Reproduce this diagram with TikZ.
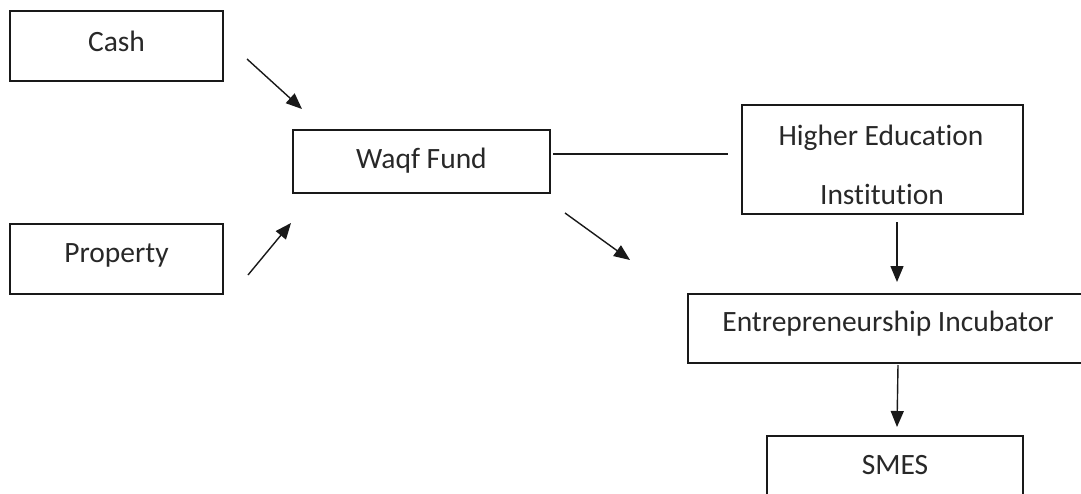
\documentclass[tikz,border=0pt]{standalone}
\usepackage{fontspec}
\setmainfont{Carlito}[RawFeature={-liga}]
\usetikzlibrary{arrows.meta}
\definecolor{txtgray}{RGB}{40,40,40}
\definecolor{linegray}{RGB}{25,25,25}
\tikzset{
  box/.style={draw=linegray, line width=1.6pt, rectangle, inner sep=0pt,
    font=\fontsize{29.5}{36}\selectfont, text=txtgray, text height=19pt},
  txt/.style={inner sep=0pt, font=\fontsize{29.5}{36}\selectfont, text=txtgray,
    text height=19pt, text depth=0pt},
  arr/.style={draw=linegray, line width=1.4pt, -{Triangle[length=16pt,width=13pt]}},
  plain/.style={draw=linegray, line width=1.4pt}
}
\begin{document}
\begin{tikzpicture}[x=1pt,y=-1pt]
\useasboundingbox (0,0) rectangle (1081,493);
\clip (0,0) rectangle (1081,493);
% boxes
\node[box, minimum width=213pt, minimum height=70pt, text depth=9pt] (cash) at (116.5,46) {Cash};
\node[box, minimum width=213pt, minimum height=70pt, text depth=13pt] (prop) at (116.5,259) {Property};
\node[box, minimum width=257pt, minimum height=63pt, text depth=4.6pt] (waqf) at (421.5,161.5) {Waqf Fund};
\node[box, minimum width=281pt, minimum height=109pt] (hei) at (882.5,159.5) {};
\node[txt] (heia) at (881,135.5) {Higher Education};
\node[txt] (heib) at (882,195) {Institution};
\node[box, minimum width=400pt, minimum height=69pt, text depth=13pt] (ei) at (888,328.5) {Entrepreneurship Incubator};
\node[box, minimum width=256pt, minimum height=74pt, text depth=16.6pt] (smes) at (895,473) {SMES};
% connector end points
\coordinate (c1s) at (247,59);   \coordinate (c1e) at (302,109);
\coordinate (p1s) at (248,275);  \coordinate (p1e) at (291,223);
\coordinate (w1s) at (565,213);  \coordinate (w1e) at (630,260);
\coordinate (l1s) at (553,154);  \coordinate (l1e) at (728,154);
\coordinate (h1s) at (897,222);  \coordinate (h1e) at (897,282);
\coordinate (e1s) at (898,365);  \coordinate (e1e) at (897,427);
% connectors
\draw[arr] (c1s) -- (c1e);
\draw[arr] (p1s) -- (p1e);
\draw[arr] (w1s) -- (w1e);
\draw[plain] (l1s) -- (l1e);
\draw[arr] (h1s) -- (h1e);
\draw[arr] (e1s) -- (e1e);
\end{tikzpicture}
\end{document}
